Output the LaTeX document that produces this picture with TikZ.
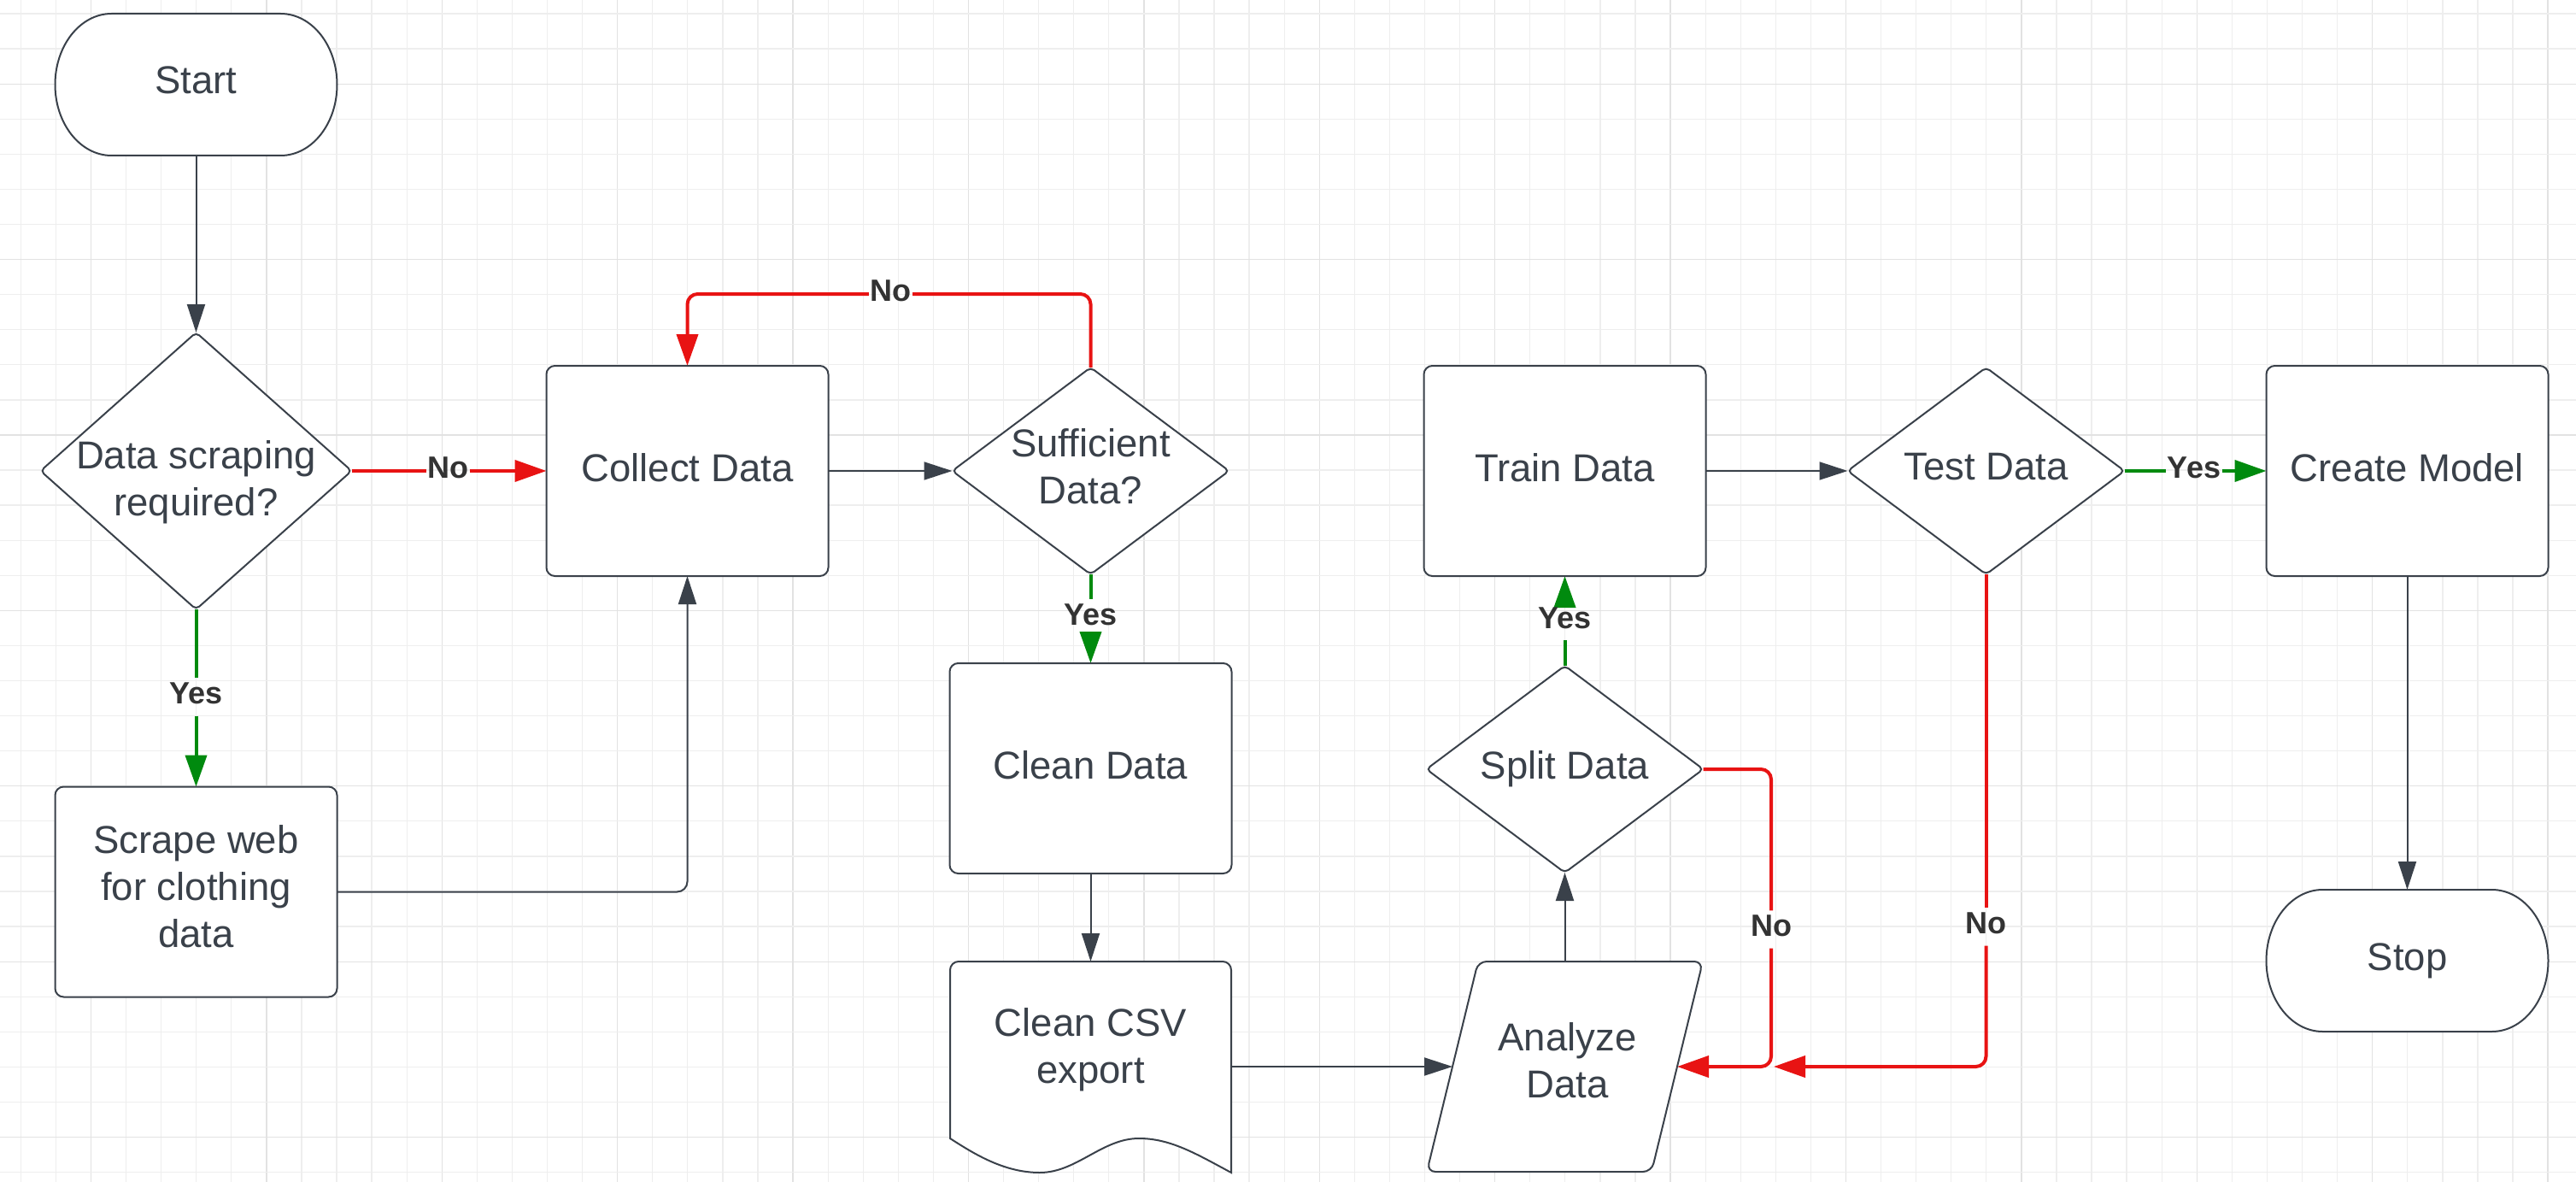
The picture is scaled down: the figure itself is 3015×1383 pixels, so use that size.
\documentclass[tikz,border=0pt]{standalone}
\usepackage{fontspec}
\setmainfont{Liberation Sans}
\usetikzlibrary{arrows.meta,shapes.geometric,calc}
\definecolor{ink}{HTML}{3A414A}
\definecolor{nored}{HTML}{E81313}
\definecolor{yesgreen}{HTML}{008A0E}
\definecolor{lbltext}{HTML}{333333}
\definecolor{gridminor}{HTML}{EEEEEE}
\definecolor{gridmajor}{HTML}{E2E2E2}
\pgfdeclarelayer{gridlayer}
\pgfdeclarelayer{edgelayer}
\pgfsetlayers{gridlayer,edgelayer,main}
\tikzset{
  outline/.style={draw=ink, line width=2pt, fill=white},
  box/.style={outline, rectangle, rounded corners=10pt, minimum width=330pt, minimum height=246pt, inner sep=0pt, outer sep=0pt},
  decision/.style={outline, diamond, rounded corners=5pt, minimum width=324pt, minimum height=242pt, inner sep=0pt, outer sep=0pt},
  anchorbox/.style={rectangle, inner sep=0pt, outer sep=0pt, minimum width=330pt, minimum height=#1},
  txt/.style={font=\fontsize{45.5}{55}\selectfont, text=ink, align=center, inner sep=0pt},
  lbl/.style={font=\bfseries\fontsize{36}{40}\selectfont, text=lbltext, inner xsep=1.5pt, inner ysep=0pt, text height=30pt, text depth=14pt},
  flow/.style={draw=ink, line width=2pt, -{Triangle[length=33pt,width=21pt]}},
  noline/.style={draw=nored, line width=4pt, rounded corners=12pt},
  yesline/.style={draw=yesgreen, line width=4pt},
  bigtip/.style={-{Triangle[length=37pt,width=25pt]}},
}
\begin{document}
\begin{tikzpicture}[x=1pt,y=1pt]
\useasboundingbox (0,0) rectangle (3015,-1383);
\begin{pgfonlayer}{gridlayer}
  \fill[white] (0,0) rectangle (3015,-1383);
  \foreach \k in {0,...,72}{
    \pgfmathtruncatemacro\m{mod(\k,5)}
    \ifnum\m=2 \def\gc{gridmajor}\else\def\gc{gridminor}\fi
    \draw[\gc, line width=1.3pt] ({24.3+41.08*\k},0) -- ({24.3+41.08*\k},-1383);
  }
  \foreach \k in {0,...,33}{
    \pgfmathtruncatemacro\m{mod(\k,5)}
    \ifnum\m=2 \def\gc{gridmajor}\else\def\gc{gridminor}\fi
    \draw[\gc, line width=1.3pt] (0,{-16-41.08*\k}) -- (3015,{-16-41.08*\k});
  }
\end{pgfonlayer}

% Start (terminator)
\draw[outline] (130.5,-16) -- (328.5,-16) arc[start angle=90,end angle=-90,x radius=66pt,y radius=83pt] -- (130.5,-182) arc[start angle=270,end angle=90,x radius=66pt,y radius=83pt] -- cycle;
\node[anchorbox=166pt, label={[txt,yshift=5pt]center:Start}] (start) at (229.5,-99) {};

\node[decision, minimum width=364pt, minimum height=324pt, label={[txt,yshift=-12.9pt]center:{Data scraping\\required?}}] (d1) at (229.5,-551) {};
\node[box, label={[txt,yshift=6.7pt]center:{Scrape web\\for clothing\\data}}] (scrape) at (229.5,-1043.5) {};
\node[box, label={[txt,yshift=4pt]center:Collect Data}] (collect) at (804.5,-551) {};
\node[decision, label={[txt,yshift=5.5pt]center:{Sufficient\\Data?}}] (suff) at (1276.5,-551) {};
\node[box, label={[txt,yshift=4pt]center:Clean Data}] (clean) at (1276.5,-899) {};

% Clean CSV export (document)
\draw[outline] (1112,-1332) -- (1112,-1135) arc[start angle=180,end angle=90,radius=10pt] -- (1431,-1125) arc[start angle=90,end angle=0,radius=10pt] -- (1441,-1372)
  .. controls (1400,-1350) and (1370,-1332) .. (1333,-1332)
  .. controls (1290,-1332) and (1260,-1372) .. (1217,-1372)
  .. controls (1175,-1372) and (1140,-1350) .. (1112,-1332) -- cycle;
\node[anchorbox=246pt, label={[txt,yshift=19.6pt]center:{Clean CSV\\export}}] (csv) at (1276.5,-1248) {};

% Analyze Data (parallelogram)
\draw[outline, rounded corners=10pt] (1861,-1125) -- (1993,-1125) -- (1933,-1371) -- (1670,-1371) -- (1730,-1125) -- cycle;
\node[anchorbox=246pt, minimum width=323pt, label={[txt,yshift=7pt,xshift=3pt]center:{Analyze\\Data}}] (analyze) at (1831.5,-1248) {};
\coordinate (anL) at ($(analyze.west)+(30,0)$);
\coordinate (anR) at ($(analyze.east)+(-30,0)$);

\node[decision, label={[txt]center:Split Data}] (split) at (1831.5,-900) {};
\node[box, label={[txt,yshift=4pt]center:Train Data}] (train) at (1831.5,-551) {};
\node[decision, label={[txt,yshift=5pt]center:Test Data}] (test) at (2324.5,-551) {};
\node[box, label={[txt,yshift=4pt]center:Create Model}] (create) at (2817.5,-551) {};

% Stop (terminator)
\draw[outline] (2718.5,-1041) -- (2916.5,-1041) arc[start angle=90,end angle=-90,x radius=66pt,y radius=83pt] -- (2718.5,-1207) arc[start angle=270,end angle=90,x radius=66pt,y radius=83pt] -- cycle;
\node[anchorbox=166pt, label={[txt]center:Stop}] (stop) at (2817.5,-1124) {};

% connector labels
\node[lbl] (no1) at (524.5,-551) {No};
\node[lbl] (no2) at (1042.5,-344) {No};
\node[lbl] (yes1) at (229.5,-815.5) {Yes};
\node[lbl] (yes2) at (1276.5,-723) {Yes};
\node[lbl] (yes3) at (1831.5,-727) {Yes};
\node[lbl] (yes4) at (2568,-551) {Yes};
\node[lbl] (no3) at (2073,-1087.5) {No};
\node[lbl] (no4) at (2324.5,-1084.5) {No};
\coordinate (merge) at (2076,-1248);

\begin{pgfonlayer}{edgelayer}
  \draw[flow] (start.south) -- (d1.north);
  \draw[noline] (d1.east) -- (no1.west);
  \draw[noline,bigtip] (no1.east) -- (collect.west);
  \draw[yesline] (d1.south) -- (yes1.north);
  \draw[yesline,bigtip] (yes1.south) -- (scrape.north);
  \draw[flow, rounded corners=12pt] (scrape.east) -| (collect.south);
  \draw[flow] (collect.east) -- (suff.west);
  \draw[noline] (suff.north) |- (no2.east);
  \draw[noline,bigtip] (no2.west) -| (collect.north);
  \draw[yesline] (suff.south) -- (yes2.north);
  \draw[yesline,bigtip] (yes2.south) -- (clean.north);
  \draw[flow] (clean.south) -- (csv.north);
  \draw[flow] (csv.east) -- (anL);
  \draw[flow] (analyze.north) -- (split.south);
  \draw[yesline] (split.north) -- (yes3.south);
  \draw[yesline,bigtip] (yes3.north) -- (train.south);
  \draw[noline] (split.east) -| (no3.north);
  \draw[noline,bigtip] (no3.south) |- (anR);
  \draw[flow] (train.east) -- (test.west);
  \draw[yesline] (test.east) -- (yes4.west);
  \draw[yesline,bigtip] (yes4.east) -- (create.west);
  \draw[noline] (test.south) -- (no4.north);
  \draw[noline,bigtip] (no4.south) |- (merge);
  \draw[flow] (create.south) -- (stop.north);
\end{pgfonlayer}
\end{tikzpicture}
\end{document}
